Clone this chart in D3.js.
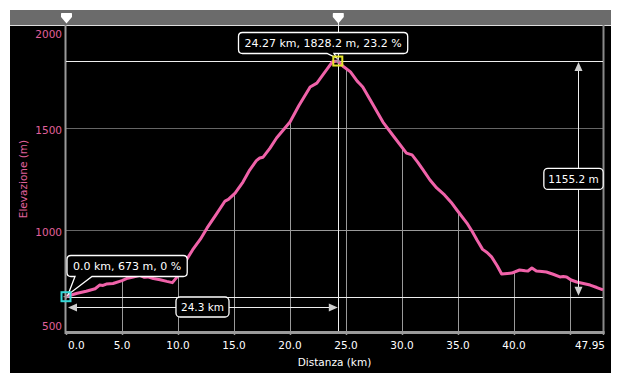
<!DOCTYPE html>
<html><head><meta charset="utf-8">
<script src="https://cdn.jsdelivr.net/npm/d3@7/dist/d3.min.js"></script>
<style>html,body{margin:0;padding:0;background:#fff}svg{display:block}text{font-family:"DejaVu Sans",Verdana,sans-serif}</style>
</head><body><svg id="c" width="620" height="384"></svg>
<script>
const distKm = [0,0.4,1.0,1.8,2.6,3.0,3.3,3.6,4.2,5.0,5.4,6.0,6.6,7.0,7.3,7.8,8.4,9.0,9.5,10.0,10.6,11.3,12.0,12.6,13.4,14.2,14.5,15.1,15.8,16.4,17.0,17.3,17.6,18.2,18.8,19.4,20.0,20.8,21.8,22.4,23.0,23.8,24.27,24.8,25.4,26.0,26.25,26.5,27.3,28.3,29.3,30.4,30.9,31.4,31.9,32.5,33.1,33.8,34.4,34.9,35.8,36.3,36.7,37.2,37.6,38.0,38.5,38.9,39.4,39.8,40.5,41.0,41.25,41.6,42.0,42.5,42.9,43.5,44.1,44.4,44.7,45.1,45.6,46.2,46.8,47.4,47.95];
const elevM = [673,680,690,700,712,730,728,735,738,752,762,770,778,768,770,762,756,748,742,775,840,902,955,1010,1075,1142,1150,1181,1235,1294,1340,1353,1357,1400,1451,1490,1529,1610,1701,1720,1765,1825,1828.2,1800,1775,1730,1716,1701,1625,1529,1456,1377,1368,1333,1294,1245,1206,1172,1135,1098,1034,990,951,905,890,868,825,784,787,789,804,800,799,814,799,797,794,783,770,772,770,755,745,738,730,718,706];
const xTicks = [0,5,10,15,20,25,30,35,40,45,47.95];
const xTickLabels = ["0.0","5.0","10.0","15.0","20.0","25.0","30.0","35.0","40.0","","47.95"];
const yTicks = [500,1000,1500,2000];
const yTickLabels = ["500","1000","1500","2000"];
const xTitle = "Distanza (km)";
const yTitle = "Elevazione (m)";
const startPoint = {d:0, e:673, label:"0.0 km, 673 m, 0 %"};
const peakPoint = {d:24.27, e:1828.2, label:"24.27 km, 1828.2 m, 23.2 %"};
const distLabel = "24.3 km";
const gainLabel = "1155.2 m";

const svg = d3.select("#c");
const x = d3.scaleLinear().domain([0,47.95]).range([66,603]);
const y = d3.scaleLinear().domain([500,2000]).range([332,26]);
const pts = distKm.map((d,i)=>[d,elevM[i]]);
const pink = "#f062a9", ypink = "#e0609c";

svg.append("rect").attr("x",10).attr("y",10).attr("width",601).attr("height",363).attr("fill","#000");
svg.append("rect").attr("x",10).attr("y",10).attr("width",601).attr("height",15).attr("fill","#6b6b6b");
svg.append("line").attr("x1",10).attr("x2",611).attr("y1",25.5).attr("y2",25.5).attr("stroke","#ddd").attr("stroke-width",1);

const area = d3.area().x(p=>x(p[0])).y0(y(500)).y1(p=>y(p[1]));
svg.append("clipPath").attr("id","under").append("path").attr("d",area(pts));

svg.append("g").selectAll("line").data(yTicks.filter(v=>v>500&&v<2000)).join("line")
  .attr("x1",x(0)).attr("x2",x(47.95)).attr("y1",v=>Math.round(y(v))+0.5).attr("y2",v=>Math.round(y(v))+0.5)
  .attr("stroke","#666").attr("stroke-width",1);
const gUnder = svg.append("g").attr("clip-path","url(#under)");
gUnder.selectAll("line.h").data(yTicks.filter(v=>v>500&&v<2000)).join("line").attr("class","h")
  .attr("x1",x(0)).attr("x2",x(47.95)).attr("y1",v=>Math.round(y(v))+0.5).attr("y2",v=>Math.round(y(v))+0.5)
  .attr("stroke","#9a9a9a").attr("stroke-width",1);
gUnder.selectAll("line.v").data(xTicks.filter(v=>v>0&&v<47.95)).join("line").attr("class","v")
  .attr("x1",v=>Math.round(x(v))+0.5).attr("x2",v=>Math.round(x(v))+0.5).attr("y1",y(500)).attr("y2",y(2000))
  .attr("stroke","#9a9a9a").attr("stroke-width",1);

svg.append("line").attr("x1",65.5).attr("x2",65.5).attr("y1",25).attr("y2",334).attr("stroke","#9a9a9a").attr("stroke-width",2);
svg.append("line").attr("x1",603.5).attr("x2",603.5).attr("y1",25).attr("y2",334).attr("stroke","#8a8a8a").attr("stroke-width",2);

const yPeak = Math.round(y(peakPoint.e))+0.5, yStart = Math.round(y(startPoint.e))+0.5, xPeak = Math.round(x(peakPoint.d))+0.5;
svg.append("line").attr("x1",x(0)).attr("x2",x(47.95)).attr("y1",yPeak).attr("y2",yPeak).attr("stroke","#eee");
svg.append("line").attr("x1",x(0)).attr("x2",x(47.95)).attr("y1",yStart).attr("y2",yStart).attr("stroke","#eee");
svg.append("line").attr("x1",xPeak).attr("x2",xPeak).attr("y1",14).attr("y2",332).attr("stroke","#eee");

const xAxis = d3.axisBottom(x).tickValues(xTicks).tickSize(3).tickFormat("");
const gx = svg.append("g").attr("transform","translate(0,332)").call(xAxis);
gx.select(".domain").attr("stroke","#9a9a9a").attr("stroke-width",3).attr("d","M65,0.5H604.5");
gx.selectAll(".tick line").attr("stroke","#9a9a9a").attr("stroke-width",1.5);
svg.append("g").selectAll("text").data(xTicks.map((v,i)=>({v,l:xTickLabels[i]})).filter(o=>o.l)).join("text")
  .attr("x",o=>o.v===0?x(o.v)+2:(o.v===47.95?x(o.v)+2:x(o.v)))
  .attr("y",345).attr("dominant-baseline","central")
  .attr("text-anchor",o=>o.v===0?"start":(o.v===47.95?"end":"middle"))
  .attr("fill","#fff").attr("font-size","10.5px").text(o=>o.l);
svg.append("text").attr("x",334.5).attr("y",362).attr("dominant-baseline","central").attr("text-anchor","middle")
  .attr("fill","#fff").attr("font-size","10.5px").text(xTitle);

svg.append("g").selectAll("text").data(yTicks.map((v,i)=>({v,l:yTickLabels[i]}))).join("text")
  .attr("x",62).attr("y",o=>Math.max(34,Math.min(326,y(o.v)+1.5))).attr("dominant-baseline","central").attr("text-anchor","end")
  .attr("fill",ypink).attr("font-size","10.5px").text(o=>o.l);
svg.append("text").attr("transform","translate(23,179) rotate(-90)").attr("dominant-baseline","central").attr("text-anchor","middle")
  .attr("fill",ypink).attr("font-size","10.5px").text(yTitle);

svg.append("path").datum(pts).attr("d",d3.line().x(p=>x(p[0])).y(p=>y(p[1])))
  .attr("fill","none").attr("stroke",pink).attr("stroke-width",3).attr("stroke-linejoin","round");

const arrowCol = "#cfcfcf";
const yMid = 307;
svg.append("line").attr("x1",x(0)+6).attr("x2",x(peakPoint.d)-6).attr("y1",yMid+0.5).attr("y2",yMid+0.5).attr("stroke","#eee");
svg.append("path").attr("d",`M${x(0)+2},${yMid+0.5}l9,-4v8z`).attr("fill",arrowCol);
svg.append("path").attr("d",`M${x(peakPoint.d)},${yMid+0.5}l-9,-4v8z`).attr("fill",arrowCol);
const xGain = 578.5;
svg.append("line").attr("x1",xGain).attr("x2",xGain).attr("y1",y(peakPoint.e)+6).attr("y2",y(startPoint.e)-6).attr("stroke","#eee");
svg.append("path").attr("d",`M${xGain},${y(peakPoint.e)+1}l-4,9h8z`).attr("fill",arrowCol);
svg.append("path").attr("d",`M${xGain},${y(startPoint.e)-1}l-4,-9h8z`).attr("fill",arrowCol);

function box(cx, cy, txt, fs, padX, h){
  const g = svg.append("g");
  const r = g.append("rect");
  const t = g.append("text").attr("x",cx).attr("y",cy).attr("dominant-baseline","central").attr("text-anchor","middle")
    .attr("fill","#fff").attr("font-size",fs).text(txt);
  const w = t.node().getComputedTextLength()+2*padX;
  r.attr("x",cx-w/2).attr("y",cy-h/2).attr("width",w).attr("height",h).attr("rx",4)
   .attr("fill","#000").attr("stroke","#fff").attr("stroke-width",1.3);
  t.raise();
  return w;
}
box(202.5, yMid, distLabel, "10.5px", 5, 20);
box(573.5, (y(peakPoint.e)+y(startPoint.e))/2, gainLabel, "10.5px", 4.5, 21);

function tip(bx, by, txt, tail){
  const g = svg.append("g");
  const t = g.append("text").attr("x",0).attr("y",0).attr("font-size","11px").text(txt);
  const w = t.node().getComputedTextLength()+12; t.remove();
  const h = 21, r = 4;
  const [a,b,tx,ty] = tail;
  const d = `M${bx+r},${by}H${bx+w-r}Q${bx+w},${by} ${bx+w},${by+r}V${by+h-r}Q${bx+w},${by+h} ${bx+w-r},${by+h}`+
    `H${b}L${tx},${ty}L${a},${by+h}H${bx+r}Q${bx},${by+h} ${bx},${by+h-r}V${by+r}Q${bx},${by} ${bx+r},${by}Z`;
  g.append("path").attr("d",d).attr("fill","#000").attr("stroke","#fff").attr("stroke-width",1.3);
  g.append("text").attr("x",bx+w/2).attr("y",by+h/2+0.5).attr("dominant-baseline","central").attr("text-anchor","middle")
    .attr("fill","#fff").attr("font-size","11px").text(txt);
}
tip(238.5, 32.5, peakPoint.label, [327,334,x(peakPoint.d)-1,y(peakPoint.e)-3]);
tip(67, 255.5, startPoint.label, [75,92,x(startPoint.d)+2,y(startPoint.e)-2]);

function marker(d,e,col){
  const cx = x(d), cy = y(e);
  svg.append("rect").attr("x",cx-4.5).attr("y",cy-4.5).attr("width",9).attr("height",9).attr("fill","none").attr("stroke",col).attr("stroke-width",2);
  svg.append("path").attr("d",`M${cx-2.5},${cy}h5M${cx},${cy-2.5}v5`).attr("stroke","#999").attr("stroke-width",1.2);
}
marker(startPoint.d,startPoint.e,"#35d8d8");
marker(peakPoint.d,peakPoint.e,"#e4e42a");

[startPoint.d, peakPoint.d].forEach(d=>{
  const cx = x(d)+0.5;
  svg.append("path").attr("d",`M${cx-5},13Q${cx-5.5},13 ${cx-5.5},14V17L${cx},23.5L${cx+5.5},17V14Q${cx+5.5},13 ${cx+5},13Z`)
    .attr("fill","#fff");
});
</script></body></html>
